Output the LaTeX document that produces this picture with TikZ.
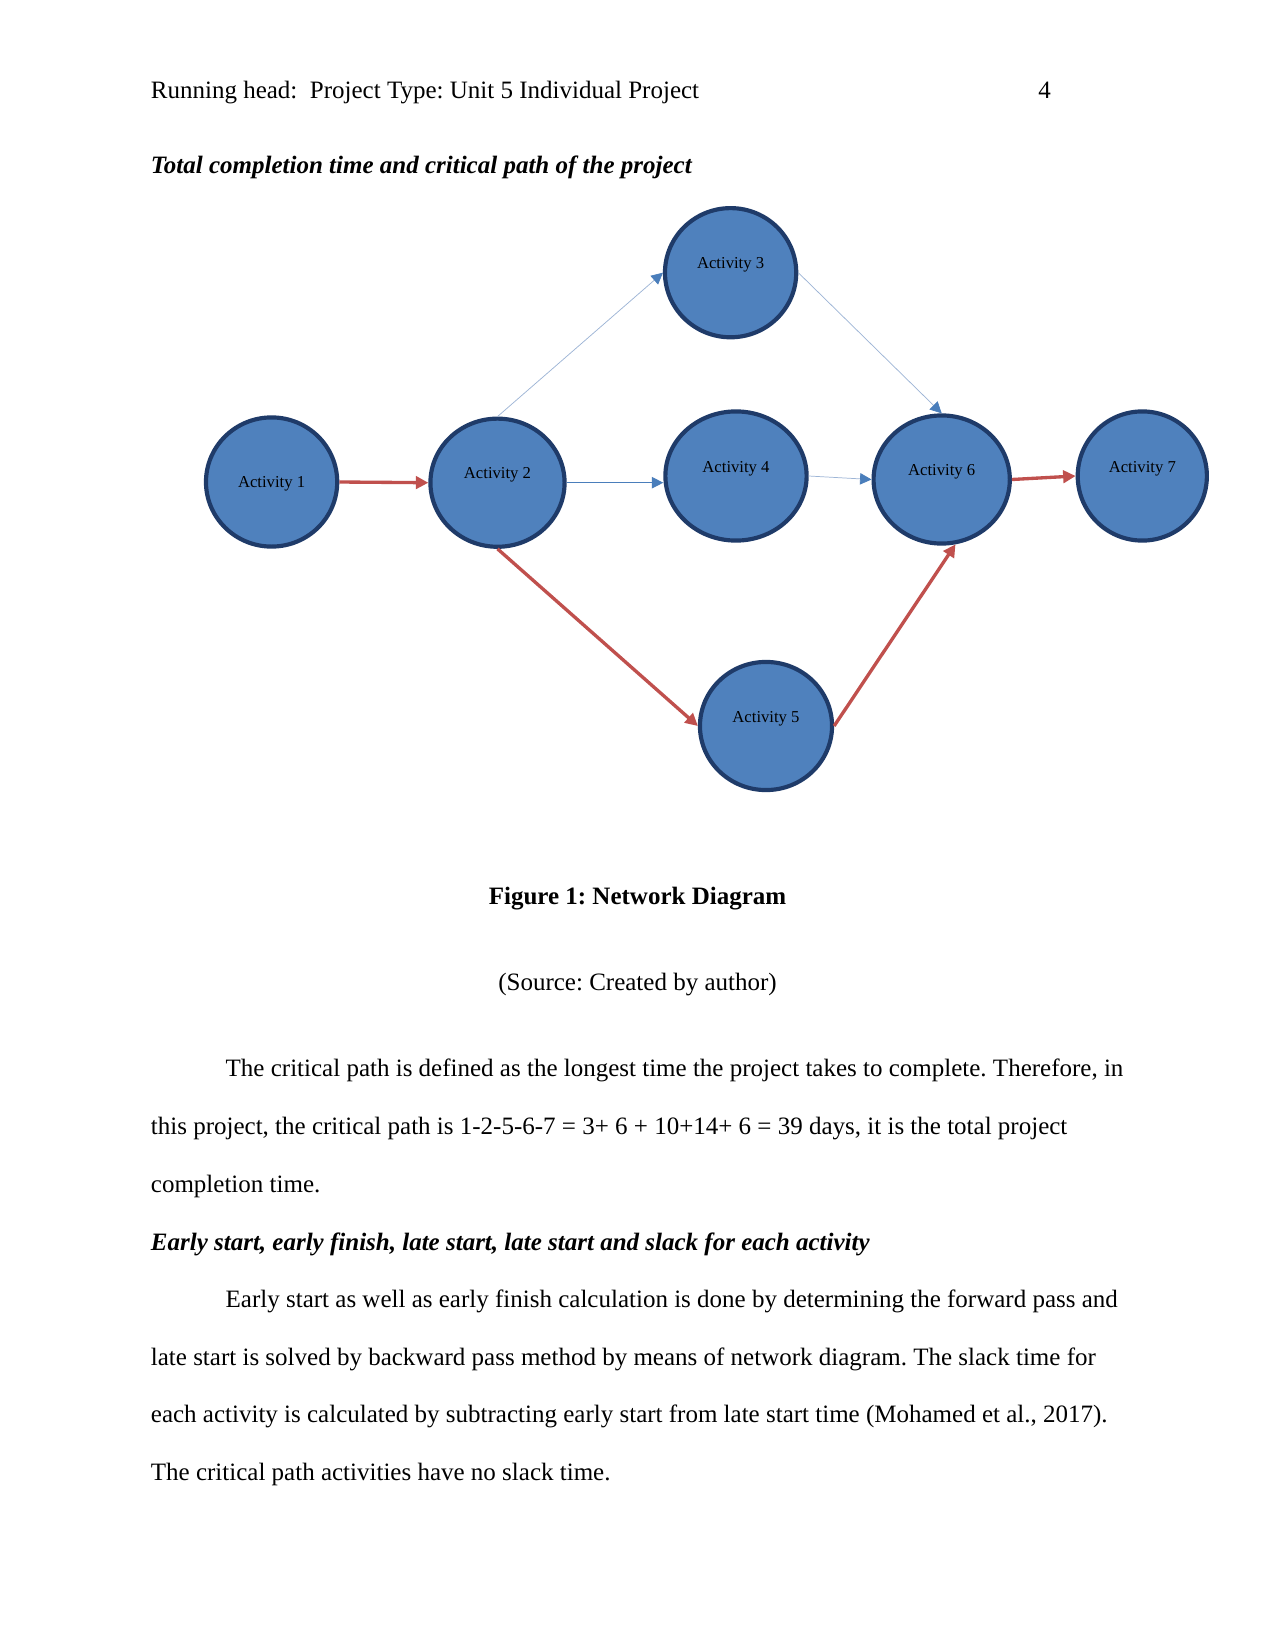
\documentclass[tikz,border=0pt]{standalone}
\usepackage{fontspec}
\setmainfont{Liberation Serif}
\usetikzlibrary{shapes.geometric,arrows.meta}
\definecolor{actfill}{HTML}{4F81BD}
\definecolor{actborder}{HTML}{1F3B69}
\definecolor{critred}{HTML}{C0504D}
\definecolor{linkblue}{HTML}{4A7EBB}
\definecolor{faintblue}{HTML}{9DB5D6}
\frenchspacing
\tikzset{
  act/.style={ellipse, fill=actfill, draw=actborder, line width=2pt, inner sep=0pt,
    font=\fontsize{8}{9.6}\selectfont, text=black, text height=5pt, text depth=8.7pt},
  actc/.style={act, text height=6.5pt, text depth=1.7pt},
  crit/.style={draw=critred, line width=1.6pt, -{Triangle[length=6pt,width=6pt]}},
  link/.style={draw=linkblue, line width=0.5pt, -{Triangle[length=5.5pt,width=5.5pt,color=linkblue]}},
  faint/.style={draw=faintblue, line width=0.35pt, -{Triangle[length=5.5pt,width=5.5pt,color=linkblue]}},
  txt/.style={anchor=base west, inner sep=0pt, font=\fontsize{12}{14}\selectfont},
  ctxt/.style={anchor=base, inner sep=0pt, font=\fontsize{12}{14}\selectfont}
}
\begin{document}
\begin{tikzpicture}[x=0.48pt,y=-0.48pt]
\useasboundingbox[fill=white] (0,0) rectangle (1275,1651);
% header
\node[txt] (head) at (150.5,98.5) {Running head:\ \ Project Type: Unit 5 Individual Project};
\node[txt] (pnum) at (1038,98.5) {4};
\node[txt, font=\fontsize{12}{14}\selectfont\bfseries\itshape] (h1) at (150.5,173.5) {Total completion time and critical path of the project};
% activities
\node[actc, minimum width=63pt, minimum height=62pt] (a1) at (271.6,482) {Activity 1};
\node[act, minimum width=64.4pt, minimum height=61.5pt] (a2) at (497.5,482.7) {Activity 2};
\node[act, minimum width=63pt, minimum height=62pt] (a3) at (730.6,272.7) {Activity 3};
\node[act, minimum width=67.8pt, minimum height=62pt] (a4) at (736,476) {Activity 4};
\node[act, minimum width=63.4pt, minimum height=61.5pt] (a5) at (766,726) {Activity 5};
\node[act, minimum width=65.4pt, minimum height=61.5pt] (a6) at (941.7,479.5) {Activity 6};
\node[act, minimum width=62pt, minimum height=62pt] (a7) at (1142.3,476) {Activity 7};
% connectors
\draw[crit] (a1.east) -- (a2.west);
\draw[faint] (a2.north) -- (a3.west);
\draw[link] (a2.east) -- (a4.west |- a2.east);
\draw[faint] (a3.east) -- (a6.north);
\draw[faint] (a4.east) -- (a6.west);
\draw[crit] (a2.south) -- (a5.west);
\draw[crit] (a5.east) -- (a6.-78);
\draw[crit] (a6.east) -- (a7.west);
% caption
\node[ctxt, font=\fontsize{12}{14}\selectfont\bfseries] (cap) at (637.5,904) {Figure 1: Network Diagram};
\node[ctxt] (src) at (637.5,990.5) {(Source: Created by author)};
% paragraph 1
\node[txt] (p1a) at (225.3,1076.5) {The critical path is defined as the longest time the project takes to complete. Therefore, in};
\node[txt] (p1b) at (150.5,1134.5) {this project, the critical path is 1-2-5-6-7 = 3+ 6 + 10+14+ 6 = 39 days, it is the total project};
\node[txt] (p1c) at (150.5,1192.5) {completion time.};
% heading 2
\node[txt, font=\fontsize{12}{14}\selectfont\bfseries\itshape] (h2) at (150.5,1250.5) {Early start, early finish, late start, late start and slack for each activity};
% paragraph 2
\node[txt] (p2a) at (225.3,1307) {Early start as well as early finish calculation is done by determining the forward pass and};
\node[txt] (p2b) at (150.5,1365) {late start is solved by backward pass method by means of network diagram. The slack time for};
\node[txt] (p2c) at (150.5,1422) {each activity is calculated by subtracting early start from late start time (Mohamed et al., 2017).};
\node[txt] (p2d) at (150.5,1480) {The critical path activities have no slack time.};
\end{tikzpicture}
\end{document}
